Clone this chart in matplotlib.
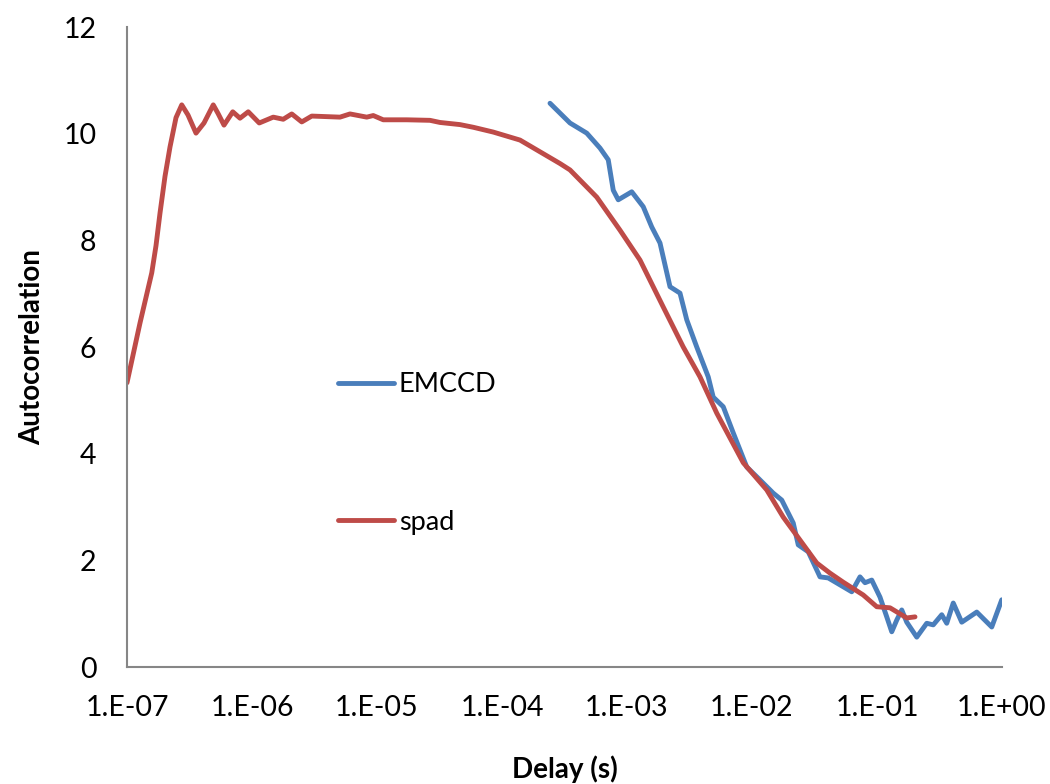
import numpy as np
import matplotlib
matplotlib.use("Agg")
import matplotlib.pyplot as plt
from matplotlib.ticker import FixedLocator, NullLocator

plt.rcParams['font.family'] = ['Lato', 'DejaVu Sans']

# ---- data (log10 of delay in seconds, autocorrelation) ----
emccd_log_delay = [-3.616, -3.456, -3.322, -3.216, -3.150, -3.110, -3.070, -2.962, -2.870,
                   -2.802, -2.736, -2.656, -2.576, -2.522, -2.442, -2.350, -2.310, -2.230,
                   -2.150, -2.042, -1.950, -1.830, -1.762, -1.670, -1.630, -1.550, -1.456,
                   -1.390, -1.296, -1.202, -1.136, -1.096, -1.042, -0.976, -0.922, -0.882,
                   -0.842, -0.802, -0.762, -0.682, -0.602, -0.550, -0.482, -0.442, -0.390,
                   -0.322, -0.202, -0.082, -0.002]
emccd_values = [10.57, 10.20, 10.01, 9.73, 9.51, 8.94, 8.76, 8.91, 8.63,
                8.25, 7.95, 7.13, 7.01, 6.51, 6.00, 5.44, 5.06, 4.88,
                4.39, 3.75, 3.54, 3.26, 3.13, 2.70, 2.29, 2.16, 1.69,
                1.67, 1.54, 1.41, 1.69, 1.58, 1.63, 1.31, 0.94, 0.66,
                0.88, 1.07, 0.84, 0.56, 0.82, 0.79, 0.98, 0.82, 1.20,
                0.84, 1.03, 0.75, 1.26]

spad_log_delay = [-7.000, -6.896, -6.802, -6.768, -6.736, -6.696, -6.656, -6.608, -6.562,
                  -6.512, -6.448, -6.384, -6.310, -6.272, -6.224, -6.154, -6.096, -6.030,
                  -5.942, -5.830, -5.750, -5.682, -5.602, -5.522, -5.296, -5.216, -5.082,
                  -5.030, -4.950, -4.762, -4.576, -4.496, -4.336, -4.230, -4.070, -3.856,
                  -3.696, -3.536, -3.456, -3.242, -3.056, -2.896, -2.710, -2.550, -2.416,
                  -2.282, -2.070, -1.882, -1.750, -1.616, -1.482, -1.376, -1.270, -1.110,
                  -1.002, -0.896, -0.762, -0.696]
spad_values = [5.33, 6.45, 7.39, 7.90, 8.51, 9.20, 9.75, 10.30, 10.54,
               10.35, 10.01, 10.20, 10.54, 10.38, 10.16, 10.41, 10.29, 10.41,
               10.20, 10.31, 10.27, 10.37, 10.22, 10.33, 10.31, 10.37, 10.31,
               10.34, 10.26, 10.26, 10.25, 10.21, 10.17, 10.12, 10.03, 9.88,
               9.66, 9.44, 9.32, 8.81, 8.19, 7.63, 6.75, 6.00, 5.44,
               4.76, 3.83, 3.32, 2.81, 2.38, 1.95, 1.76, 1.59, 1.35,
               1.13, 1.11, 0.92, 0.94]

x_ticks = [1e-7, 1e-6, 1e-5, 1e-4, 1e-3, 1e-2, 1e-1, 1e0]
x_tick_labels = ["1.E-07", "1.E-06", "1.E-05", "1.E-04", "1.E-03", "1.E-02", "1.E-01", "1.E+00"]
y_ticks = [0, 2, 4, 6, 8, 10, 12]

emccd_delay = 10.0 ** np.array(emccd_log_delay)
spad_delay = 10.0 ** np.array(spad_log_delay)

fig = plt.figure(figsize=(10.5, 7.84), dpi=100)
ax = fig.add_axes([127/1050, 1 - 667/784, 875/1050, 640/784])

ax.plot(emccd_delay, emccd_values, color="#4A7EBB", lw=3.5, label="EMCCD",
        solid_capstyle="round", solid_joinstyle="round")
ax.plot(spad_delay, spad_values, color="#BE4B48", lw=3.5, label="spad",
        solid_capstyle="round", solid_joinstyle="round")

ax.set_xscale("log")
ax.set_xlim(1e-7, 1e0)
ax.set_ylim(0, 12)
ax.xaxis.set_major_locator(FixedLocator(x_ticks))
ax.xaxis.set_minor_locator(NullLocator())
ax.set_xticklabels(x_tick_labels)
ax.set_yticks(y_ticks)
ax.set_yticklabels([str(v) for v in y_ticks])
ax.tick_params(axis="x", length=0, pad=20, labelsize=20.5)
ax.tick_params(axis="y", length=0, pad=22, labelsize=20.5)

for s in ["top", "right"]:
    ax.spines[s].set_visible(False)
for s in ["left", "bottom"]:
    ax.spines[s].set_color("#868686")
    ax.spines[s].set_linewidth(1.5)

ax.set_xlabel("Delay (s)", fontsize=20, fontweight="bold", labelpad=25)
ax.set_ylabel("Autocorrelation", fontsize=20, fontweight="bold", labelpad=13)

fig.legend(loc="center left", bbox_to_anchor=(338/1050, 1 - 453.5/784), frameon=False,
           fontsize=19.5, labelspacing=4.15, handlelength=2.05, handletextpad=0.2,
           borderpad=0, borderaxespad=0)

fig.savefig("out.png", dpi=100)
